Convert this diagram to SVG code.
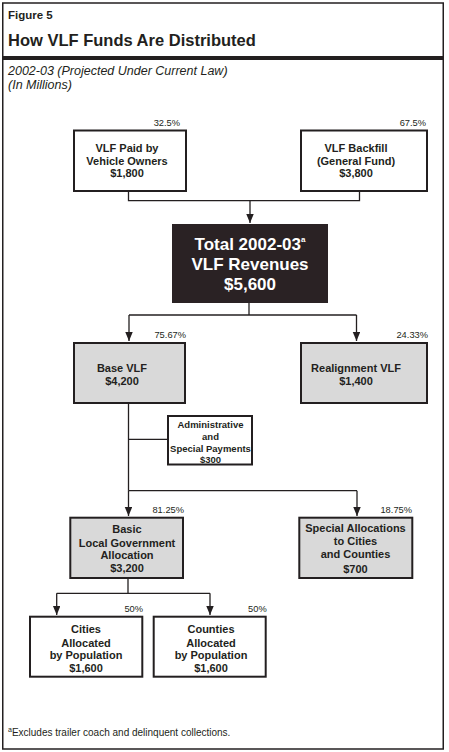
<svg xmlns="http://www.w3.org/2000/svg" width="449" height="752" viewBox="0 0 449 752">
  <style>
    text { font-family: "Liberation Sans", Arial, sans-serif; fill: #231f20; }
    .hdr { font-weight: bold; }
    .sub { font-style: italic; font-size: 12.5px; }
    .box { fill: #ffffff; stroke: #231f20; stroke-width: 2; }
    .gray { fill: #d9d9d9; stroke: #231f20; stroke-width: 2; }
    .lbl { font-size: 11px; font-weight: bold; text-anchor: middle; }
    .adm { font-size: 9.5px; font-weight: bold; text-anchor: middle; }
    .big { font-size: 17px; font-weight: bold; text-anchor: middle; fill: #ffffff; }
    .pct { font-size: 9.3px; text-anchor: end; }
    .conn { fill: none; stroke: #231f20; stroke-width: 1.3; }
    .foot { font-size: 10px; }
  </style>
  <defs>
    <marker id="arr" markerUnits="userSpaceOnUse" markerWidth="10" markerHeight="8" refX="9" refY="3.75" orient="auto">
      <path d="M0,0 L9,3.75 L0,7.5 Z" fill="#231f20"/>
    </marker>
  </defs>

  <rect x="0" y="0" width="449" height="752" fill="#ffffff"/>
  <!-- frame -->
  <rect x="2.75" y="3" width="440.5" height="746" fill="none" stroke="#231f20" stroke-width="1.5"/>
  <rect x="2" y="56" width="442" height="4" fill="#231f20"/>

  <text class="hdr" x="8" y="19" font-size="11.5">Figure 5</text>
  <text class="hdr" x="8" y="46" font-size="16.5">How VLF Funds Are Distributed</text>
  <text class="sub" x="8" y="75">2002-03 (Projected Under Current Law)</text>
  <text class="sub" x="8" y="88.5">(In Millions)</text>

  <g id="connectors">
    <path class="conn" d="M128.5,191.5 V200.7 H359.5 V191.5"/>
    <path class="conn" d="M250,200.7 V223" marker-end="url(#arr)"/>
    <path class="conn" d="M249,303 V315"/>
    <path class="conn" d="M129,315 H356.5"/>
    <path class="conn" d="M129,315 V341" marker-end="url(#arr)"/>
    <path class="conn" d="M356.5,315 V341" marker-end="url(#arr)"/>
    <path class="conn" d="M128.5,404 V490.7"/>
    <path class="conn" d="M128.5,439.3 H167"/>
    <path class="conn" d="M128.5,490.7 H357"/>
    <path class="conn" d="M128.5,490.7 V516" marker-end="url(#arr)"/>
    <path class="conn" d="M357,490.7 V516" marker-end="url(#arr)"/>
    <path class="conn" d="M128,578 V593.3"/>
    <path class="conn" d="M56.7,593.3 H210"/>
    <path class="conn" d="M56.7,593.3 V615" marker-end="url(#arr)"/>
    <path class="conn" d="M210,593.3 V615" marker-end="url(#arr)"/>
  </g>

  <g id="vlf-paid">
    <rect class="box" x="74" y="130.5" width="112" height="60.5"/>
    <text class="pct" x="180" y="126">32.5%</text>
    <text class="lbl" x="127" y="152">VLF Paid by</text>
    <text class="lbl" x="127" y="164.5">Vehicle Owners</text>
    <text class="lbl" x="127" y="177">$1,800</text>
  </g>

  <g id="vlf-backfill">
    <rect class="box" x="301" y="130.5" width="126" height="60.5"/>
    <text class="pct" x="426" y="126">67.5%</text>
    <text class="lbl" x="356" y="152">VLF Backfill</text>
    <text class="lbl" x="356" y="164.5">(General Fund)</text>
    <text class="lbl" x="356" y="177">$3,800</text>
  </g>

  <g id="total">
    <rect x="172" y="224" width="156" height="79" fill="#2a2224"/>
    <text class="big" x="250" y="250">Total 2002-03<tspan font-size="8" dy="-8">a</tspan></text>
    <text class="big" x="250" y="270">VLF Revenues</text>
    <text class="big" x="250" y="290">$5,600</text>
  </g>

  <g id="base-vlf">
    <rect class="gray" x="74" y="343" width="111" height="60"/>
    <text class="pct" x="186" y="338">75.67%</text>
    <text class="lbl" x="122" y="371.5">Base VLF</text>
    <text class="lbl" x="122" y="385">$4,200</text>
  </g>

  <g id="realignment-vlf">
    <rect class="gray" x="301" y="343" width="126" height="60"/>
    <text class="pct" x="428" y="338">24.33%</text>
    <text class="lbl" x="356" y="371.5">Realignment VLF</text>
    <text class="lbl" x="356" y="385">$1,400</text>
  </g>

  <g id="admin">
    <rect class="box" x="168" y="416" width="84" height="48.5"/>
    <text class="adm" x="210.5" y="428">Administrative</text>
    <text class="adm" x="210.5" y="440">and</text>
    <text class="adm" x="210.5" y="451.5">Special Payments</text>
    <text class="adm" x="210.5" y="462.5">$300</text>
  </g>

  <g id="basic">
    <rect class="gray" x="70.3" y="517.7" width="112.7" height="60.3"/>
    <text class="pct" x="184" y="512.5">81.25%</text>
    <text class="lbl" x="127" y="533">Basic</text>
    <text class="lbl" x="127" y="546.5">Local Government</text>
    <text class="lbl" x="127" y="559">Allocation</text>
    <text class="lbl" x="127" y="572">$3,200</text>
  </g>

  <g id="special">
    <rect class="gray" x="299.3" y="517.7" width="113" height="60.3"/>
    <text class="pct" x="412" y="512.5">18.75%</text>
    <text class="lbl" x="355.5" y="531.5">Special Allocations</text>
    <text class="lbl" x="355.5" y="545">to Cities</text>
    <text class="lbl" x="355.5" y="558">and Counties</text>
    <text class="lbl" x="355.5" y="572.5">$700</text>
  </g>

  <g id="cities">
    <rect class="box" x="30" y="616.7" width="112.3" height="60"/>
    <text class="pct" x="143" y="611.5">50%</text>
    <text class="lbl" x="86" y="633">Cities</text>
    <text class="lbl" x="86" y="646.5">Allocated</text>
    <text class="lbl" x="86" y="658.5">by Population</text>
    <text class="lbl" x="86" y="672">$1,600</text>
  </g>

  <g id="counties">
    <rect class="box" x="153.7" y="616.7" width="112" height="60"/>
    <text class="pct" x="266.7" y="611.5">50%</text>
    <text class="lbl" x="211" y="633">Counties</text>
    <text class="lbl" x="211" y="646.5">Allocated</text>
    <text class="lbl" x="211" y="658.5">by Population</text>
    <text class="lbl" x="211" y="672">$1,600</text>
  </g>

  <text class="foot" x="8" y="736"><tspan font-size="7" dy="-4">a</tspan><tspan dy="4">Excludes trailer coach and delinquent collections.</tspan></text>
</svg>
